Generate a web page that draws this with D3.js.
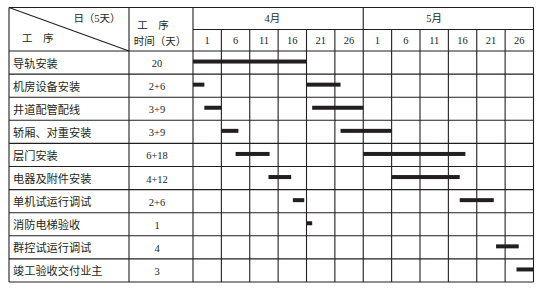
<!DOCTYPE html>
<html>
<head>
<meta charset="utf-8">
<script src="https://cdn.jsdelivr.net/npm/d3@7"></script>
<style>
  html, body { margin: 0; padding: 0; background: #fff; }
  svg { display: block; }
  text { font-family: "Liberation Serif", "Noto Sans CJK SC", serif; fill: #231f20; }
</style>
</head>
<body>
<svg id="chart" width="542" height="293"></svg>
<script>
// Elevator installation schedule (days counted from 1 April; 12 five-day columns)
const tasks = ["导轨安装", "机房设备安装", "井道配管配线", "轿厢、对重安装", "层门安装",
               "电器及附件安装", "单机试运行调试", "消防电梯验收", "群控试运行调试", "竣工验收交付业主"];
const durations = ["20", "2+6", "3+9", "3+9", "6+18", "4+12", "2+6", "1", "4", "3"];
// start day (offset from 1 April) of each segment of a task
const starts = [[0], [0, 20], [2, 21], [5, 26], [7.5, 30], [13.3, 35], [17.6, 47], [20], [53.4], [57]];
const months = ["4月", "5月"];
const dayLabels = ["1", "6", "11", "16", "21", "26", "1", "6", "11", "16", "21", "26"];

const svg = d3.select("#chart");
const ink = "#231f20";

const xLeft = 9, xCol1 = 129, xCol2 = 193, xRight = 533.5;
const yTop = 7.5, yMidHead = 29.5, yHeadBottom = 51, yBottom = 282;

const x = d3.scaleLinear().domain([0, 60]).range([xCol2, xRight]);
const y = d3.scaleBand().domain(tasks).range([yHeadBottom, yBottom]);

// Gantt bars: lengths come from the duration label ("a+b")
const segs = [];
tasks.forEach((t, i) => {
  const lens = durations[i].split("+").map(Number);
  starts[i].forEach((s, j) => segs.push({ task: t, start: s, len: lens[j] }));
});
svg.append("g").selectAll("rect").data(segs).join("rect")
  .attr("x", d => x(d.start))
  .attr("width", d => Math.min(x(d.start + d.len), xRight) - x(d.start))
  .attr("y", d => y(d.task) + y.bandwidth() / 2 - 3)
  .attr("height", 4)
  .attr("fill", ink);

// Grid
const grid = svg.append("g").attr("stroke", ink).attr("stroke-width", 1.1).attr("fill", "none");
const hline = (y0, x0, x1) => grid.append("line").attr("x1", x0).attr("x2", x1).attr("y1", y0).attr("y2", y0);
const vline = (x0, y0, y1) => grid.append("line").attr("x1", x0).attr("x2", x0).attr("y1", y0).attr("y2", y1);

hline(yTop, xLeft, xRight);
hline(yMidHead, xCol2, xRight);
hline(yHeadBottom, xLeft, xRight);
tasks.forEach(t => hline(y(t) + y.bandwidth(), xLeft, xRight));
vline(xLeft, yTop, yBottom);
vline(xCol1, yTop, yBottom);
vline(xCol2, yTop, yBottom);
vline(xRight, yTop, yBottom);
d3.range(5, 60, 5).forEach(d => vline(x(d), d === 30 ? yTop : yMidHead, yBottom));
grid.append("line").attr("x1", xLeft).attr("y1", yTop).attr("x2", xCol1).attr("y2", yHeadBottom);

// Header texts
const head = svg.append("g").attr("font-size", 10.5).attr("dominant-baseline", "central");
head.append("text").attr("x", 97).attr("y", 18).attr("text-anchor", "middle").text("日（5天）");
head.append("text").attr("x", 22).attr("y", 38).text("工\u2003序");
head.append("text").attr("x", 153).attr("y", 25).attr("text-anchor", "middle").text("工\u2003序");
head.append("text").attr("x", 160).attr("y", 41).attr("text-anchor", "middle").text("时间（天）");

const monthPos = [14, 42.5];
head.selectAll(".month").data(months).join("text")
  .attr("class", "month")
  .attr("x", (d, i) => x(monthPos[i]))
  .attr("y", 18.5)
  .attr("text-anchor", "middle")
  .text(d => d);

head.selectAll(".day").data(dayLabels).join("text")
  .attr("class", "day")
  .attr("x", (d, i) => x(i * 5 + 2.5))
  .attr("y", 40.5)
  .attr("text-anchor", "middle")
  .text(d => d);

// Task names and durations
const body = svg.append("g").attr("font-size", 11.2).attr("dominant-baseline", "central");
body.selectAll(".task").data(tasks).join("text")
  .attr("class", "task")
  .attr("x", 13)
  .attr("y", d => y(d) + y.bandwidth() / 2 + 1)
  .text(d => d);
body.selectAll(".dur").data(durations).join("text")
  .attr("class", "dur")
  .attr("x", 157)
  .attr("y", (d, i) => y(tasks[i]) + y.bandwidth() / 2 + 1)
  .attr("text-anchor", "middle")
  .attr("font-size", 10.5)
  .text(d => d);
</script>
</body>
</html>
